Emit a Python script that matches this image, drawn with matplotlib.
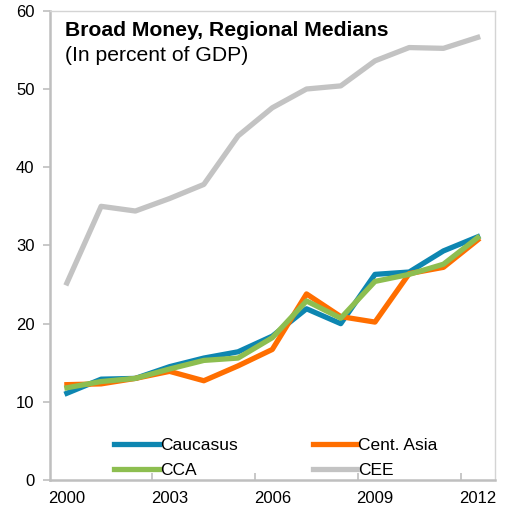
import numpy as np
import matplotlib.pyplot as plt

years = np.arange(2000, 2013)
caucasus = [11.1, 12.9, 13.0, 14.5, 15.6, 16.4, 18.4, 21.9, 20.0, 26.3, 26.6, 29.3, 31.1]
cent_asia = [12.2, 12.3, 13.0, 13.9, 12.7, 14.6, 16.7, 23.8, 20.9, 20.2, 26.4, 27.2, 30.7]
cca = [11.8, 12.6, 13.0, 14.2, 15.3, 15.6, 18.2, 22.9, 20.7, 25.4, 26.3, 27.6, 31.0]
cee = [25.2, 35.0, 34.4, 36.0, 37.8, 44.0, 47.6, 50.0, 50.4, 53.6, 55.3, 55.2, 56.6]
xlabels = ["2000", "2003", "2006", "2009", "2012"]

plt.rcParams['font.family'] = ['Liberation Sans', 'DejaVu Sans']

fig = plt.figure(figsize=(5.08, 5.14), dpi=100)
ax = fig.add_axes([0.098, 0.066, 0.876, 0.913])

ax.plot(years, cee, color="#C3C3C3", lw=3.8, label="CEE")
ax.plot(years, caucasus, color="#0D86B1", lw=3.8, label="Caucasus")
ax.plot(years, cent_asia, color="#FF6E00", lw=3.8, label="Cent. Asia")
ax.plot(years, cca, color="#8DBE50", lw=3.8, label="CCA")

ax.set_xlim(1999.5, 2012.5)
ax.set_ylim(0, 60)
ax.set_yticks(range(0, 61, 10))
ax.set_xticks([2000, 2003, 2006, 2009, 2012])
ax.set_xticklabels(xlabels)
ax.set_xticks([2002.5, 2005.5, 2008.5, 2011.5], minor=True)
ax.tick_params(axis="x", which="major", length=0, pad=8, labelsize=12)
ax.tick_params(axis="x", which="minor", direction="in", length=5, color="#BFBFBF", width=1.2)
ax.tick_params(axis="y", direction="out", length=5, color="#BFBFBF", width=1.2, labelsize=12, pad=6)

for s in ["left", "bottom"]:
    ax.spines[s].set_color("#BFBFBF")
    ax.spines[s].set_linewidth(1.8)
for s in ["top", "right"]:
    ax.spines[s].set_color("#D4D4D4")
    ax.spines[s].set_linewidth(1.0)

ax.text(0.035, 0.978, "Broad Money, Regional Medians", transform=ax.transAxes,
        fontsize=15.2, fontweight="bold", va="top")
ax.text(0.035, 0.925, "(In percent of GDP)", transform=ax.transAxes,
        fontsize=15.2, va="top")

h, l = ax.get_legend_handles_labels()
order = [1, 3, 2, 0]  # Caucasus, CCA, Cent. Asia, CEE (column-wise)
ax.legend([h[i] for i in order], [l[i] for i in order], ncol=2, frameon=False,
          loc="lower left", bbox_to_anchor=(0.122, -0.018), fontsize=12.5,
          handlelength=2.55, handletextpad=0.08, columnspacing=4.3,
          labelspacing=0.55, borderaxespad=0.2)

fig.savefig("out.png", dpi=100)
